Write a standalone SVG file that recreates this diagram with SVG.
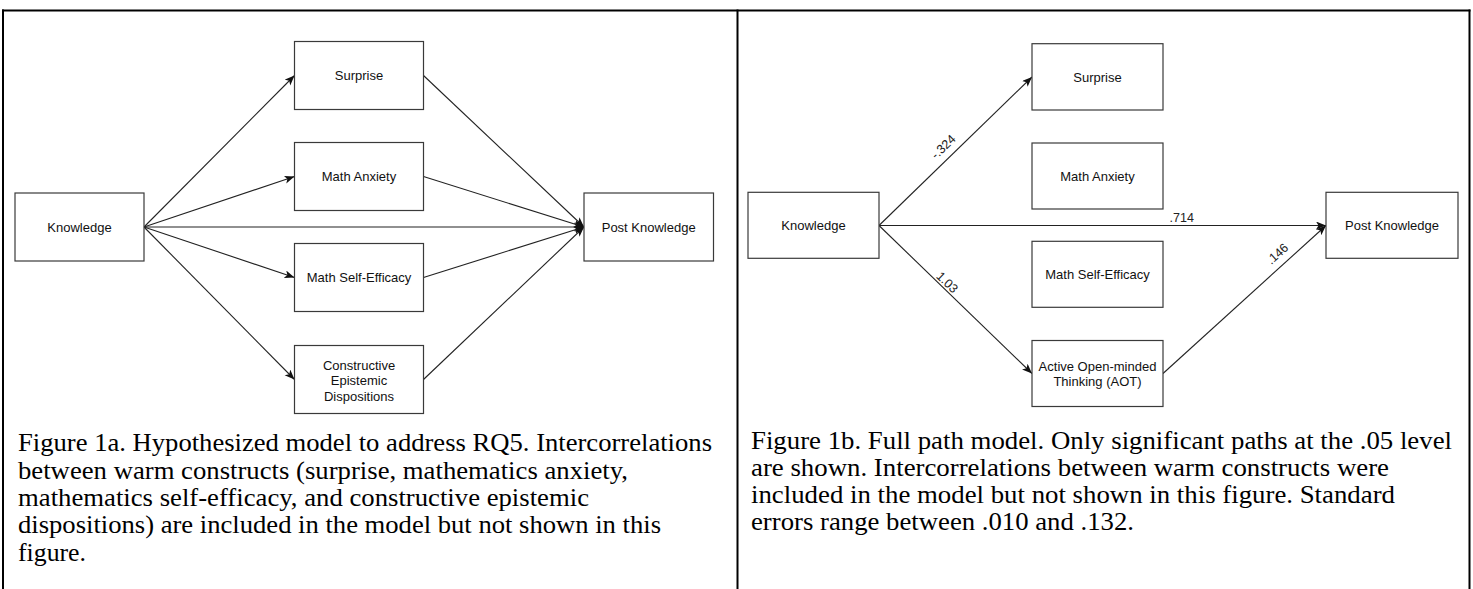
<svg xmlns="http://www.w3.org/2000/svg" width="1473" height="589" viewBox="0 0 1473 589">
<style>
.frame{stroke:#000;stroke-width:2;fill:none}
.box{fill:#fff;stroke:#3a3a3a;stroke-width:1.2}
.nt{font-family:"Liberation Sans",Arial,Helvetica,sans-serif;font-size:13px;fill:#111;text-anchor:middle}
.lbl{font-family:"Liberation Sans",Arial,Helvetica,sans-serif;font-size:12.5px;fill:#222}
.edge{stroke:#222;stroke-width:1.1;fill:none;marker-end:url(#arr)}
.cap{font-family:"Liberation Serif","Times New Roman",Times,serif;font-size:25.5px;fill:#000}
</style>
<defs>
<marker id="arr" markerUnits="userSpaceOnUse" markerWidth="12" markerHeight="10" refX="10" refY="4" orient="auto">
<path d="M0,0 L10,4 L0,8 L2.5,4 Z" fill="#111"/>
</marker>
</defs>
<rect width="1473" height="589" fill="#fff"/>
<g id="frame">
<line class="frame" x1="2" y1="10.5" x2="1470.5" y2="10.5"/>
<line class="frame" x1="3" y1="9.5" x2="3" y2="589"/>
<line class="frame" x1="737.5" y1="9.5" x2="737.5" y2="589"/>
<line class="frame" x1="1469.5" y1="9.5" x2="1469.5" y2="589"/>
</g>
<g id="connectors">
<line class="edge" x1="144" y1="227" x2="294.5" y2="75.5"/>
<line class="edge" x1="144" y1="227" x2="294.5" y2="176.5"/>
<line class="edge" x1="144" y1="227" x2="584" y2="227"/>
<line class="edge" x1="144" y1="227" x2="294.5" y2="277.5"/>
<line class="edge" x1="144" y1="227" x2="294.5" y2="379.5"/>
<line class="edge" x1="423.5" y1="75.5" x2="584" y2="227"/>
<line class="edge" x1="423.5" y1="176.5" x2="584" y2="227"/>
<line class="edge" x1="423.5" y1="277.5" x2="584" y2="227"/>
<line class="edge" x1="423.5" y1="379.5" x2="584" y2="227"/>
<line class="edge" x1="879" y1="225.5" x2="1032" y2="77"/>
<line class="edge" x1="879" y1="225.5" x2="1326" y2="225.5"/>
<line class="edge" x1="879" y1="225.5" x2="1032" y2="373.5"/>
<line class="edge" x1="1163" y1="373.5" x2="1326" y2="225.5"/>
<text class="lbl" text-anchor="middle" transform="translate(943.5,147) rotate(-44)" dy="4">-.324</text>
<text class="lbl" x="1169.5" y="222">.714</text>
<text class="lbl" text-anchor="middle" transform="translate(947,282.5) rotate(44)" dy="4">1.03</text>
<text class="lbl" text-anchor="middle" transform="translate(1277.5,254) rotate(-42)" dy="4">.146</text>
</g>
<g id="a-knowledge"><rect class="box" x="15" y="193" width="129" height="68"/><text class="nt" x="79.5" y="231.5">Knowledge</text></g>
<g id="a-surprise"><rect class="box" x="294.5" y="41.5" width="129" height="68"/><text class="nt" x="359" y="80">Surprise</text></g>
<g id="a-anxiety"><rect class="box" x="294.5" y="142.5" width="129" height="68"/><text class="nt" x="359" y="181">Math Anxiety</text></g>
<g id="a-efficacy"><rect class="box" x="294.5" y="243.5" width="129" height="68"/><text class="nt" x="359" y="282">Math Self-Efficacy</text></g>
<g id="a-ced"><rect class="box" x="294.5" y="345.5" width="129" height="68"/><text class="nt" x="359" y="369.5">Constructive</text><text class="nt" x="359" y="385">Epistemic</text><text class="nt" x="359" y="400.5">Dispositions</text></g>
<g id="a-post"><rect class="box" x="584" y="193" width="129.5" height="68"/><text class="nt" x="648.7" y="231.5">Post Knowledge</text></g>
<g id="b-knowledge"><rect class="box" x="748" y="192.3" width="131" height="66"/><text class="nt" x="813.5" y="230">Knowledge</text></g>
<g id="b-surprise"><rect class="box" x="1032" y="43.7" width="131" height="66.3"/><text class="nt" x="1097.5" y="81.5">Surprise</text></g>
<g id="b-anxiety"><rect class="box" x="1032" y="143" width="131" height="66"/><text class="nt" x="1097.5" y="180.5">Math Anxiety</text></g>
<g id="b-efficacy"><rect class="box" x="1032" y="241.3" width="131" height="66"/><text class="nt" x="1097.5" y="279">Math Self-Efficacy</text></g>
<g id="b-aot"><rect class="box" x="1032" y="340.5" width="131" height="66"/><text class="nt" x="1097.5" y="371">Active Open-minded</text><text class="nt" x="1097.5" y="386">Thinking (AOT)</text></g>
<g id="b-post"><rect class="box" x="1326" y="192.3" width="132" height="66"/><text class="nt" x="1392" y="230">Post Knowledge</text></g>
<g id="caption-a">
<text class="cap" x="18" y="451" textLength="694" lengthAdjust="spacingAndGlyphs">Figure 1a. Hypothesized model to address RQ5. Intercorrelations</text>
<text class="cap" x="18" y="478.5" textLength="610" lengthAdjust="spacingAndGlyphs">between warm constructs (surprise, mathematics anxiety,</text>
<text class="cap" x="18" y="506" textLength="571" lengthAdjust="spacingAndGlyphs">mathematics self-efficacy, and constructive epistemic</text>
<text class="cap" x="18" y="533" textLength="643" lengthAdjust="spacingAndGlyphs">dispositions) are included in the model but not shown in this</text>
<text class="cap" x="18" y="560.5" textLength="68" lengthAdjust="spacingAndGlyphs">figure.</text>
</g>
<g id="caption-b">
<text class="cap" x="751" y="448.5" textLength="701" lengthAdjust="spacingAndGlyphs">Figure 1b. Full path model. Only significant paths at the .05 level</text>
<text class="cap" x="751" y="475.5" textLength="638" lengthAdjust="spacingAndGlyphs">are shown. Intercorrelations between warm constructs were</text>
<text class="cap" x="751" y="502.5" textLength="644" lengthAdjust="spacingAndGlyphs">included in the model but not shown in this figure. Standard</text>
<text class="cap" x="751" y="529.5" textLength="383" lengthAdjust="spacingAndGlyphs">errors range between .010 and .132.</text>
</g>
</svg>
